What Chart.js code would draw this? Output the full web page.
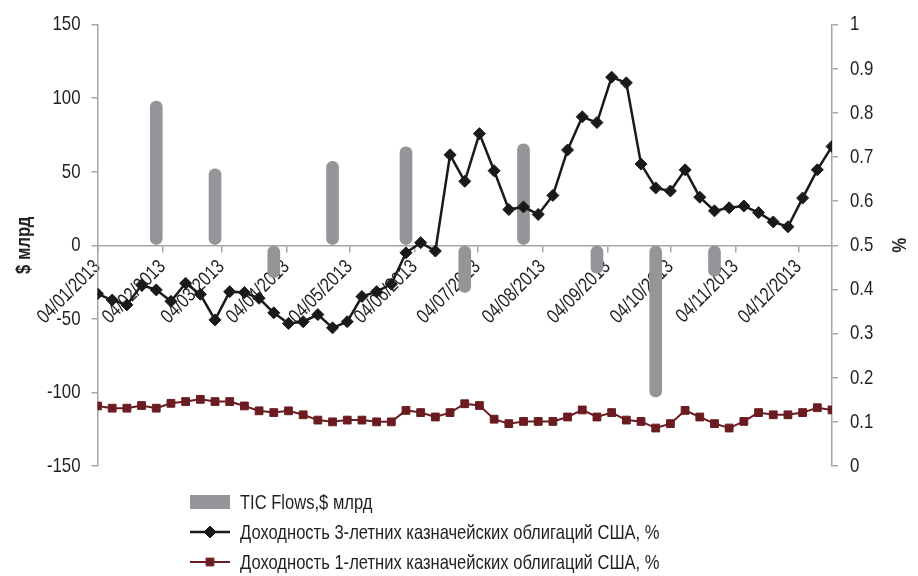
<!DOCTYPE html>
<html>
<head>
<meta charset="utf-8">
<script src="https://cdn.jsdelivr.net/npm/chart.js@4.4.1/dist/chart.umd.min.js"></script>
<style>
  html, body { margin: 0; padding: 0; background: #ffffff; }
  #wrap { position: relative; width: 918px; height: 576px; }
</style>
</head>
<body>
<div id="wrap"><canvas id="chart" width="918" height="576"></canvas></div>
<script>
// Weekly observation dates (dd/mm/yyyy)
const weekDates = [
  "04/01/2013","11/01/2013","18/01/2013","25/01/2013",
  "01/02/2013","08/02/2013","15/02/2013","22/02/2013",
  "01/03/2013","08/03/2013","15/03/2013","22/03/2013","29/03/2013",
  "05/04/2013","12/04/2013","19/04/2013","26/04/2013",
  "03/05/2013","10/05/2013","17/05/2013","24/05/2013","31/05/2013",
  "07/06/2013","14/06/2013","21/06/2013","28/06/2013",
  "05/07/2013","12/07/2013","19/07/2013","26/07/2013",
  "02/08/2013","09/08/2013","16/08/2013","23/08/2013","30/08/2013",
  "06/09/2013","13/09/2013","20/09/2013","27/09/2013",
  "04/10/2013","11/10/2013","18/10/2013","25/10/2013",
  "01/11/2013","08/11/2013","15/11/2013","22/11/2013","29/11/2013",
  "06/12/2013","13/12/2013","20/12/2013"
];

// 3-year US Treasury yield, %
const yield3y = [
  0.390, 0.376, 0.365, 0.410, 0.399, 0.373, 0.414, 0.389, 0.331, 0.395,
  0.393, 0.380, 0.347, 0.323, 0.327, 0.343, 0.313, 0.327, 0.384, 0.395,
  0.412, 0.483, 0.506, 0.487, 0.705, 0.645, 0.753, 0.669, 0.581, 0.587,
  0.570, 0.613, 0.716, 0.791, 0.778, 0.881, 0.868, 0.684, 0.630, 0.623,
  0.671, 0.609, 0.578, 0.585, 0.589, 0.574, 0.553, 0.542, 0.607, 0.671,
  0.724
];

// 1-year US Treasury yield, %
const yield1y = [
  0.136, 0.131, 0.131, 0.137, 0.131, 0.142, 0.146, 0.151, 0.146, 0.146,
  0.136, 0.125, 0.121, 0.125, 0.116, 0.104, 0.100, 0.104, 0.104, 0.100,
  0.100, 0.126, 0.121, 0.111, 0.121, 0.141, 0.137, 0.106, 0.096, 0.101,
  0.101, 0.101, 0.111, 0.127, 0.111, 0.121, 0.104, 0.101, 0.086, 0.096,
  0.126, 0.111, 0.096, 0.086, 0.101, 0.121, 0.116, 0.116, 0.121, 0.132,
  0.127
];

// Monthly TIC net flows, $ bn
const ticDates = [
  "01/02/2013","01/03/2013","29/03/2013","26/04/2013","31/05/2013",
  "28/06/2013","26/07/2013","30/08/2013","27/09/2013","25/10/2013"
];
const ticFlows = [98, 52, -22, 57, 67, -32, 69, -19, -103, -21];

// Axis tick labels (monthly)
const monthTicks = [
  "04/01/2013","04/02/2013","04/03/2013","04/04/2013","04/05/2013","04/06/2013",
  "04/07/2013","04/08/2013","04/09/2013","04/10/2013","04/11/2013","04/12/2013"
];

const seriesLabels = [
  "TIC Flows,$ млрд",
  "Доходность 3-летних казначейских облигаций США, %",
  "Доходность 1-летних казначейских облигаций США, %"
];

// Days elapsed since the first observation
function dayIndex(s) {
  const [d, m, y] = s.split("/").map(Number);
  return Date.UTC(y, m - 1, d) / 86400000;
}
const origin = dayIndex(weekDates[0]);
const toX = s => dayIndex(s) - origin;

const tickDays = monthTicks.map(toX);
const tickLabelAt = new Map(tickDays.map((v, i) => [v, monthTicks[i]]));

const FONT = "'Liberation Sans', Arial, sans-serif";
const TEXT = "#231f20";
const AXIS = "#a6a6a6";
const CONDENSE = 0.8;   // horizontal squeeze for a condensed look

// Narrow every glyph run horizontally around its anchor point
const canvas = document.getElementById("chart");
const ctx2d = canvas.getContext("2d");
(function condense(ctx, sx) {
  const fill = ctx.fillText.bind(ctx);
  const measure = ctx.measureText.bind(ctx);
  ctx.fillText = function (text, x, y, maxWidth) {
    ctx.save();
    ctx.translate(x, y);
    ctx.scale(sx, 1);
    if (maxWidth === undefined) fill(text, 0, 0); else fill(text, 0, 0, maxWidth / sx);
    ctx.restore();
  };
  ctx.measureText = function (text) {
    const m = measure(text);
    return {
      width: m.width * sx,
      actualBoundingBoxLeft: m.actualBoundingBoxLeft * sx,
      actualBoundingBoxRight: m.actualBoundingBoxRight * sx,
      actualBoundingBoxAscent: m.actualBoundingBoxAscent,
      actualBoundingBoxDescent: m.actualBoundingBoxDescent
    };
  };
})(ctx2d, CONDENSE);

Chart.defaults.font.family = FONT;
Chart.defaults.font.size = 21;
Chart.defaults.color = TEXT;

// Legend drawn as a single left-aligned column under the plot
const columnLegend = {
  id: "columnLegend",
  afterDraw(chart, args, opts) {
    const ctx = chart.ctx;
    ctx.save();
    ctx.font = `${opts.fontSize}px ${FONT}`;
    ctx.textBaseline = "middle";
    ctx.textAlign = "left";
    chart.data.datasets.forEach((ds, i) => {
      const y = opts.top + i * opts.rowHeight;
      const x = opts.left;
      if (ds.type === "bar") {
        ctx.fillStyle = ds.backgroundColor;
        ctx.fillRect(x, y - 7, opts.swatch, 14);
      } else {
        ctx.strokeStyle = ds.borderColor;
        ctx.lineWidth = ds.borderWidth;
        ctx.beginPath();
        ctx.moveTo(x, y);
        ctx.lineTo(x + opts.swatch, y);
        ctx.stroke();
        ctx.fillStyle = ds.pointBackgroundColor;
        ctx.strokeStyle = ds.pointBorderColor;
        ctx.lineWidth = 1;
        Chart.helpers.drawPoint(ctx, {
          pointStyle: ds.pointStyle, radius: ds.pointRadius, rotation: 0, borderWidth: 1
        }, x + opts.swatch / 2, y);
      }
      ctx.fillStyle = TEXT;
      ctx.fillText(ds.label, x + opts.swatch + 10, y + 1);
    });
    ctx.restore();
  }
};

new Chart(canvas, {
  type: "bar",
  data: {
    datasets: [
      {
        type: "bar",
        label: seriesLabels[0],
        data: ticDates.map((d, i) => ({ x: toX(d), y: ticFlows[i] })),
        backgroundColor: "#939598",
        borderWidth: 0,
        borderRadius: 6,
        borderSkipped: false,
        barThickness: 12,
        yAxisID: "y",
        order: 2
      },
      {
        type: "line",
        label: seriesLabels[1],
        data: weekDates.map((d, i) => ({ x: toX(d), y: yield3y[i] })),
        borderColor: "#1a1a1a",
        borderWidth: 2.5,
        pointStyle: "rectRot",
        pointRadius: 6,
        pointBackgroundColor: "#1a1a1a",
        pointBorderColor: "#1a1a1a",
        pointBorderWidth: 1,
        tension: 0,
        yAxisID: "y1",
        order: 0
      },
      {
        type: "line",
        label: seriesLabels[2],
        data: weekDates.map((d, i) => ({ x: toX(d), y: yield1y[i] })),
        borderColor: "#6b1c20",
        borderWidth: 2,
        pointStyle: "rect",
        pointRadius: 5.5,
        pointBackgroundColor: "#6b1c20",
        pointBorderColor: "#6b1c20",
        pointBorderWidth: 1,
        tension: 0,
        yAxisID: "y1",
        order: 1
      }
    ]
  },
  options: {
    responsive: false,
    animation: false,
    layout: { padding: { top: 21, bottom: 110, left: 0, right: 0 } },
    plugins: {
      legend: { display: false },
      tooltip: { enabled: false },
      columnLegend: { left: 190, top: 502, rowHeight: 30, swatch: 40, fontSize: 20.7 }
    },
    scales: {
      x: {
        type: "linear",
        position: { y: 0 },
        min: 0,
        max: toX(weekDates[weekDates.length - 1]),
        offset: false,
        afterBuildTicks: scale => { scale.ticks = tickDays.map(v => ({ value: v })); },
        ticks: {
          autoSkip: false,
          minRotation: 45,
          maxRotation: 45,
          padding: 4,
          color: TEXT,
          font: { size: 20 },
          callback: v => tickLabelAt.get(v) || ""
        },
        grid: { display: true, drawOnChartArea: false, drawTicks: true, tickLength: 6, color: AXIS, lineWidth: 1.5, offset: false },
        border: { display: true, color: AXIS, width: 1.5 }
      },
      y: {
        type: "linear",
        position: "left",
        min: -150,
        max: 150,
        ticks: { stepSize: 50, padding: 11, color: TEXT },
        grid: { drawOnChartArea: false, drawTicks: true, tickLength: 6, color: AXIS, lineWidth: 1.5 },
        border: { display: true, color: AXIS, width: 1.5 },
        title: { display: true, text: "$ млрд", font: { weight: "bold", size: 21 }, padding: { top: 12, bottom: 0 }, color: TEXT },
        afterFit: scale => { scale.width = 97.5; }
      },
      y1: {
        type: "linear",
        position: "right",
        min: 0,
        max: 1,
        ticks: { stepSize: 0.1, padding: 12, color: TEXT, callback: v => String(+v.toFixed(1)) },
        grid: { drawOnChartArea: false, drawTicks: true, tickLength: 6, color: AXIS, lineWidth: 1.5 },
        border: { display: true, color: AXIS, width: 1.5 },
        title: { display: true, text: "%", font: { weight: "bold", size: 21 }, padding: { top: 8, bottom: 0 }, color: TEXT },
        afterFit: scale => { scale.width = 86; }
      }
    }
  },
  plugins: [columnLegend]
});
</script>
</body>
</html>
